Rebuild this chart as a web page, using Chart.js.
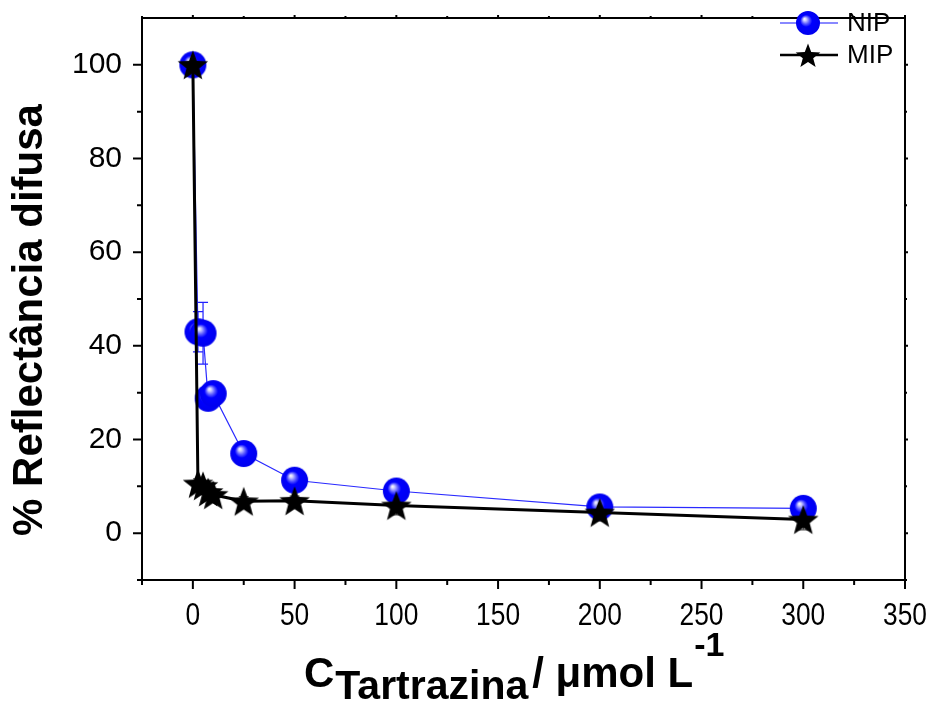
<!DOCTYPE html>
<html>
<head>
<meta charset="utf-8">
<script src="https://cdn.jsdelivr.net/npm/chart.js@4.4.1/dist/chart.umd.min.js"></script>
<style>
  html, body { margin: 0; padding: 0; background: #fff; }
  #wrap { width: 935px; height: 701px; }
</style>
</head>
<body>
<div id="wrap"><canvas id="reflectChart"></canvas></div>
<script>
// data
var concentrations = [0, 2.5, 5, 7.5, 10, 25, 50, 100, 200, 300];
var nipValues = [100, 43, 42.7, 28.8, 29.8, 17, 11.3, 9, 5.6, 5.3];
var nipErrors = [0.5, 4.3, 6.6, 1, 1.2, 0.6, 0.6, 0.6, 0.5, 0.5];
var mipValues = [100, 10.6, 10.1, 8.8, 8.2, 6.8, 6.9, 5.9, 4.4, 2.9];
var mipErrors = [0.5, 1, 1, 1, 1, 1, 1, 2, 1.8, 2.2];
var xTicks = [0, 50, 100, 150, 200, 250, 300, 350];
var xMinorTicks = [-25, 25, 75, 125, 175, 225, 275, 325];
var yTicks = [0, 20, 40, 60, 80, 100];
var yMinorTicks = [-10, 10, 30, 50, 70, 90];

var FONT = "'Liberation Sans', Arial, sans-serif";

function makeSphere(r) {
    var c = document.createElement('canvas');
    c.width = c.height = r * 2 + 2;
    var g = c.getContext('2d');
    var cx = r + 1, cy = r + 1;
    var grad = g.createRadialGradient(cx - r * 0.3, cy - r * 0.35, 0, cx, cy, r);
    grad.addColorStop(0, '#ffffff');
    grad.addColorStop(0.12, '#d0d0ff');
    grad.addColorStop(0.32, '#5a5aff');
    grad.addColorStop(0.5, '#0000ff');
    grad.addColorStop(1, '#0000ee');
    g.fillStyle = grad;
    g.beginPath();
    g.arc(cx, cy, r, 0, 2 * Math.PI);
    g.fill();
    return c;
}

function makeStar(r) {
    var c = document.createElement('canvas');
    var s = Math.ceil(r * 2 + 2);
    c.width = c.height = s;
    var g = c.getContext('2d');
    g.fillStyle = '#000';
    g.beginPath();
    for (var i = 0; i < 10; i++) {
        var rad = i % 2 === 0 ? r : r * 0.42;
        var a = -Math.PI / 2 + i * Math.PI / 5;
        g.lineTo(s / 2 + rad * Math.cos(a), s / 2 + 1.5 + rad * Math.sin(a));
    }
    g.closePath();
    g.fill();
    return c;
}

var sphereBig = makeSphere(13.5);
var sphereSmall = makeSphere(12);
var starBig = makeStar(16);
var starSmall = makeStar(13);

function toPoints(xs, ys) {
    return xs.map(function (x, i) { return { x: x, y: ys[i] }; });
}

function condensedText(ctx, text, x, y, sx) {
    ctx.save();
    ctx.translate(x, y);
    ctx.scale(sx, 1);
    ctx.fillText(text, 0, 0);
    ctx.restore();
}

var errorBars = {
    id: 'errorBars',
    beforeDatasetsDraw: function (chart) {
        var ctx = chart.ctx;
        var ys = chart.scales.y, xs = chart.scales.x;
        var sets = [[nipValues, nipErrors, '#2020ff'], [mipValues, mipErrors, '#555']];
        ctx.save();
        ctx.lineWidth = 1.2;
        sets.forEach(function (s) {
            ctx.strokeStyle = s[2];
            concentrations.forEach(function (c, i) {
                var px = xs.getPixelForValue(c);
                var top = ys.getPixelForValue(s[0][i] + s[1][i]);
                var bot = ys.getPixelForValue(s[0][i] - s[1][i]);
                ctx.beginPath();
                ctx.moveTo(px, top); ctx.lineTo(px, bot);
                ctx.moveTo(px - 5, top); ctx.lineTo(px + 5, top);
                ctx.moveTo(px - 5, bot); ctx.lineTo(px + 5, bot);
                ctx.stroke();
            });
        });
        ctx.restore();
    }
};

var frameAndText = {
    id: 'frameAndText',
    afterDraw: function (chart) {
        var ctx = chart.ctx;
        var a = chart.chartArea;
        var xs = chart.scales.x, ys = chart.scales.y;
        ctx.save();
        ctx.strokeStyle = '#000';
        ctx.lineWidth = 2;
        ctx.beginPath();
        ctx.moveTo(a.left, a.top); ctx.lineTo(a.right, a.top); ctx.lineTo(a.right, a.bottom);
        ctx.stroke();

        // tick marks
        ctx.beginPath();
        xTicks.forEach(function (v) {
            var p = xs.getPixelForValue(v);
            ctx.moveTo(p, a.bottom); ctx.lineTo(p, a.bottom + 9);
            ctx.moveTo(p, a.top); ctx.lineTo(p, a.top - 3);
        });
        xMinorTicks.forEach(function (v) {
            var p = xs.getPixelForValue(v);
            ctx.moveTo(p, a.bottom); ctx.lineTo(p, a.bottom + 5);
            ctx.moveTo(p, a.top); ctx.lineTo(p, a.top - 2);
        });
        yTicks.forEach(function (v) {
            var p = ys.getPixelForValue(v);
            ctx.moveTo(a.left, p); ctx.lineTo(a.left - 9, p);
            ctx.moveTo(a.right, p); ctx.lineTo(a.right + 3, p);
        });
        yMinorTicks.forEach(function (v) {
            var p = ys.getPixelForValue(v);
            ctx.moveTo(a.left, p); ctx.lineTo(a.left - 5, p);
            ctx.moveTo(a.right, p); ctx.lineTo(a.right + 2, p);
        });
        ctx.stroke();

        // x tick labels
        ctx.fillStyle = '#000';
        ctx.font = '31px ' + FONT;
        ctx.textAlign = 'center';
        ctx.textBaseline = 'alphabetic';
        xTicks.forEach(function (v) {
            condensedText(ctx, String(v), xs.getPixelForValue(v), 625, 0.85);
        });

        // y axis title
        ctx.save();
        ctx.translate(30, 320);
        ctx.rotate(-Math.PI / 2);
        ctx.font = 'bold 42px ' + FONT;
        ctx.textAlign = 'center';
        ctx.textBaseline = 'middle';
        ctx.fillText('% Reflectância difusa', 0, 0);
        ctx.restore();

        // x axis title with sub and superscript
        ctx.textAlign = 'left';
        var x = 304;
        ctx.font = 'bold 42px ' + FONT;
        ctx.fillText('C', x, 687);
        x += ctx.measureText('C').width + 1;
        ctx.font = 'bold 41px ' + FONT;
        ctx.fillText('Tartrazina', x, 699);
        x += ctx.measureText('Tartrazina').width + 4;
        ctx.font = 'bold 42px ' + FONT;
        ctx.fillText('/ \u03bcmol L', x, 687);
        x += ctx.measureText('/ \u03bcmol L').width + 1;
        ctx.font = 'bold 34px ' + FONT;
        ctx.fillText('-1', x, 656);

        // legend
        var rows = [[sphereSmall, '#6060ff', 1.5, 'NIP', 23], [starSmall, '#000', 2.5, 'MIP', 55]];
        ctx.font = '26px ' + FONT;
        ctx.textBaseline = 'middle';
        rows.forEach(function (r) {
            ctx.strokeStyle = r[1];
            ctx.lineWidth = r[2];
            ctx.beginPath();
            ctx.moveTo(780, r[4]); ctx.lineTo(838, r[4]);
            ctx.stroke();
            ctx.drawImage(r[0], 808 - r[0].width / 2, r[4] - r[0].height / 2);
            ctx.fillStyle = '#000';
            ctx.fillText(r[3], 847, r[4] + 1);
        });
        ctx.restore();
    }
};

var reflect = document.getElementById('reflectChart').getContext('2d');
new Chart(reflect, {
    type: 'line',
    data: {
        datasets: [
            {
                label: 'NIP',
                data: toPoints(concentrations, nipValues),
                borderColor: '#2a2aff',
                borderWidth: 1.2,
                pointStyle: sphereBig,
                pointRadius: 13,
                fill: false,
                tension: 0,
                order: 2
            },
            {
                label: 'MIP',
                data: toPoints(concentrations, mipValues),
                borderColor: '#000',
                borderWidth: 3,
                pointStyle: starBig,
                pointRadius: 15,
                fill: false,
                tension: 0,
                order: 1
            }
        ]
    },
    options: {
        responsive: true,
        maintainAspectRatio: false,
        animation: false,
        events: [],
        layout: { padding: { left: 0, right: 30, top: 12, bottom: 0 } },
        scales: {
            x: {
                type: 'linear',
                min: -25,
                max: 350,
                grid: { display: false, drawTicks: false },
                border: { display: true, color: '#000', width: 2 },
                ticks: { display: false },
                afterFit: function (scale) {
                    scale.height = 121;
                    scale.paddingLeft = 0;
                    scale.paddingRight = 0;
                }
            },
            y: {
                min: -10,
                max: 110,
                grid: { display: false, drawTicks: false },
                border: { display: true, color: '#000', width: 2 },
                ticks: {
                    stepSize: 10,
                    padding: 20,
                    color: '#000',
                    font: { family: FONT, size: 30 },
                    callback: function (v) { return yTicks.indexOf(v) >= 0 ? String(v) : ''; }
                },
                afterFit: function (scale) {
                    scale.width = 142;
                    scale.paddingTop = 0;
                    scale.paddingBottom = 0;
                }
            }
        },
        plugins: {
            legend: { display: false },
            tooltip: { enabled: false }
        }
    },
    plugins: [errorBars, frameAndText]
});
</script>
</body>
</html>
